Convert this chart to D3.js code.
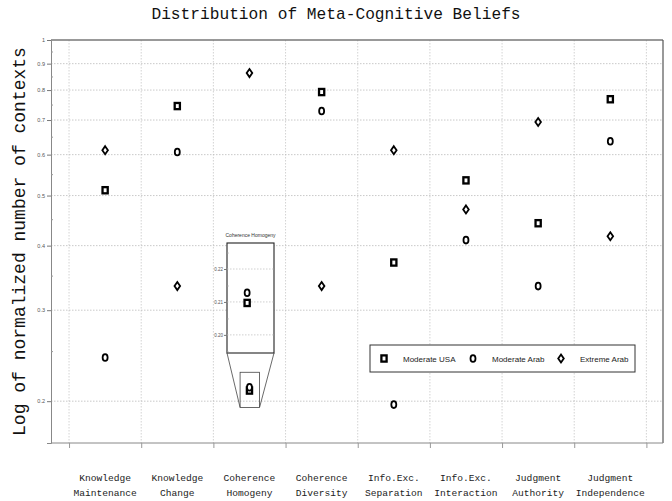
<!DOCTYPE html>
<html><head><meta charset="utf-8">
<script src="https://cdn.jsdelivr.net/npm/d3@7"></script>
<style>
body{margin:0;background:#fff;}
svg{display:block;}
</style></head>
<body>
<svg id="chart" width="672" height="501"></svg>
<script>
const categories = [
  ["Knowledge","Maintenance"],["Knowledge","Change"],["Coherence","Homogeny"],["Coherence","Diversity"],
  ["Info.Exc.","Separation"],["Info.Exc.","Interaction"],["Judgment","Authority"],["Judgment","Independence"]
];
const seriesNames = ["Moderate USA","Moderate Arab","Extreme Arab"];
const moderateUSA  = [0.512, 0.745, 0.2097, 0.793, 0.371, 0.535, 0.442, 0.768];
const moderateArab = [0.243, 0.607, 0.2128, 0.729, 0.197, 0.410, 0.334, 0.637];
const extremeArab  = [0.612, 0.334, 0.863, 0.334, 0.612, 0.470, 0.694, 0.417];
const yTicks = [0.2,0.3,0.4,0.5,0.6,0.7,0.8,0.9,1];
const yMinorTicks = [0.25,0.35,0.45,0.55,0.65,0.75,0.85,0.95];
const insetTicks = [0.20,0.21,0.22];
const insetMinorTicks = [0.195,0.205,0.215,0.225];
const insetTitle = "Coherence Homogeny";
const title = "Distribution of Meta-Cognitive Beliefs";
const yLabel = "Log of normalized number of contexts";

const svg = d3.select("#chart");
const L = 51, R = 663, T = 40, B = 443;
const x = d3.scaleLinear().domain([0.25, 8.73]).range([L, R]);
const y = d3.scaleLog().domain([0.166, 1]).range([B, T]);
const mono = "'Liberation Mono','Courier New',monospace";
const narrow = "'Liberation Sans Narrow','Liberation Sans',Arial,sans-serif";

// grid
const bounds = d3.range(0.5, 9, 1);
svg.append("g").selectAll("line").data(bounds).join("line")
  .attr("x1", d=>x(d)).attr("x2", d=>x(d)).attr("y1", T).attr("y2", B)
  .attr("stroke", "#c8c8c8").attr("stroke-width", 0.8).attr("stroke-dasharray", "1.5,1.5");
svg.append("g").selectAll("line").data(yTicks.slice(0,-1)).join("line")
  .attr("x1", L).attr("x2", R).attr("y1", d=>y(d)).attr("y2", d=>y(d))
  .attr("stroke", "#bbb").attr("stroke-width", 0.8).attr("stroke-dasharray", "1.5,1.5");

// frame
svg.append("line").attr("x1", L).attr("x2", R).attr("y1", T).attr("y2", T).attr("stroke", "#777").attr("stroke-width", 1.5);
svg.append("line").attr("x1", R).attr("x2", R).attr("y1", T).attr("y2", B).attr("stroke", "#555").attr("stroke-width", 1.2);
svg.append("line").attr("x1", L).attr("x2", R).attr("y1", B).attr("y2", B).attr("stroke", "#888").attr("stroke-width", 1);

// y axis
const yAxis = d3.axisLeft(y).tickValues(yTicks).tickFormat(d3.format("~g")).tickSize(4).tickPadding(2);
const gy = svg.append("g").attr("transform", `translate(${L},0)`).call(yAxis);
gy.select(".domain").attr("stroke", "#888");
gy.selectAll(".tick line").attr("stroke", "#777");
gy.selectAll(".tick text").attr("font-family", narrow).attr("font-size", 5.5).attr("fill", "#555");
const yMinor = d3.axisLeft(y).tickValues(yMinorTicks).tickFormat("").tickSize(-2);
const gym = svg.append("g").attr("transform", `translate(${L},0)`).call(yMinor);
gym.select(".domain").remove();
gym.selectAll(".tick line").attr("stroke", "#999");

// x axis
const xAxis = d3.axisBottom(x).tickValues(bounds).tickFormat("").tickSize(5);
const gx = svg.append("g").attr("transform", `translate(0,${B})`).call(xAxis);
gx.select(".domain").remove();
gx.selectAll(".tick line").attr("stroke", "#999");
const xl = svg.append("g");
categories.forEach((c, i) => {
  const t = xl.append("text").attr("x", x(i+1)).attr("y", 481).attr("text-anchor", "middle")
    .attr("font-family", mono).attr("font-size", 9.6).attr("fill", "#222");
  t.append("tspan").attr("x", x(i+1)).attr("dy", 0).text(c[0]);
  t.append("tspan").attr("x", x(i+1)).attr("dy", 15).text(c[1]);
});

// title & y label
svg.append("text").attr("x", 336).attr("y", 19).attr("text-anchor", "middle")
  .attr("font-family", mono).attr("font-size", 16.2).attr("fill", "#111").text(title);
svg.append("text").attr("transform", `translate(25,${(T+B)/2}) rotate(-90)`).attr("text-anchor", "middle")
  .attr("font-family", mono).attr("font-size", 18).attr("fill", "#111").text(yLabel);

// markers
function marker(g, type, cx, cy) {
  if (type === 0) {
    g.append("rect").attr("x", cx-2.6).attr("y", cy-3.1).attr("width", 5.2).attr("height", 6.2)
      .attr("fill", "#fff").attr("stroke", "#000").attr("stroke-width", 2.3);
  } else if (type === 1) {
    g.append("ellipse").attr("cx", cx).attr("cy", cy).attr("rx", 2.5).attr("ry", 3.4)
      .attr("fill", "#fff").attr("stroke", "#000").attr("stroke-width", 1.8);
  } else {
    g.append("path").attr("d", `M${cx},${cy-4}L${cx+2.8},${cy}L${cx},${cy+4}L${cx-2.8},${cy}Z`)
      .attr("fill", "#fff").attr("stroke", "#000").attr("stroke-width", 1.8);
  }
}
const allSeries = [moderateUSA, moderateArab, extremeArab];
const gm = svg.append("g");
allSeries.forEach((s, k) => s.forEach((v, i) => marker(gm, k, x(i+1), y(v))));

// zoom rectangle in main plot
const zx0 = 2.87, zx1 = 3.14, zy0 = 0.1945, zy1 = 0.2275;
svg.append("rect").attr("x", x(zx0)).attr("y", y(zy1)).attr("width", x(zx1)-x(zx0)).attr("height", y(zy0)-y(zy1))
  .attr("fill", "none").attr("stroke", "#444").attr("stroke-width", 0.8);

// inset
const IL = 227, IR = 274, IT = 243, IB = 353;
const ix = d3.scaleLinear().domain([2.85, 3.20]).range([IL, IR]);
const iy = d3.scaleLinear().domain([0.1945, 0.2279]).range([IB, IT]);
const gi = svg.append("g");
gi.append("rect").attr("x", IL).attr("y", IT).attr("width", IR-IL).attr("height", IB-IT)
  .attr("fill", "#fff").attr("stroke", "#222").attr("stroke-width", 1.1);
gi.selectAll("line.ig").data(insetTicks).join("line").attr("class", "ig")
  .attr("x1", IL).attr("x2", IR).attr("y1", d=>iy(d)).attr("y2", d=>iy(d))
  .attr("stroke", "#bbb").attr("stroke-width", 0.7).attr("stroke-dasharray", "1.5,1.5");
const iAxis = d3.axisLeft(iy).tickValues(insetTicks).tickFormat(d3.format(".2f")).tickSize(3).tickPadding(1);
const gia = gi.append("g").attr("transform", `translate(${IL},0)`).call(iAxis);
gia.select(".domain").remove();
gia.selectAll(".tick line").attr("stroke", "#777");
gia.selectAll(".tick text").attr("font-family", narrow).attr("font-size", 4.5).attr("fill", "#555");
const iMinor = d3.axisLeft(iy).tickValues(insetMinorTicks).tickFormat("").tickSize(-1.5);
const gim = gi.append("g").attr("transform", `translate(${IL},0)`).call(iMinor);
gim.select(".domain").remove();
gim.selectAll(".tick line").attr("stroke", "#999");
gi.append("text").attr("x", (IL+IR)/2).attr("y", IT-6).attr("text-anchor", "middle")
  .attr("font-family", narrow).attr("font-size", 5).attr("fill", "#333").text(insetTitle);
[moderateUSA, moderateArab].forEach((s, k) => marker(gi, k, ix(3), iy(s[2])));
// connector lines
gi.append("line").attr("x1", IL).attr("y1", IB).attr("x2", x(zx0)).attr("y2", y(zy0)).attr("stroke", "#444").attr("stroke-width", 0.8);
gi.append("line").attr("x1", IR).attr("y1", IB).attr("x2", x(zx1)).attr("y2", y(zy0)).attr("stroke", "#444").attr("stroke-width", 0.8);

// legend
const lg = svg.append("g");
lg.append("rect").attr("x", 370).attr("y", 345).attr("width", 265).attr("height", 27)
  .attr("fill", "#fff").attr("stroke", "#333").attr("stroke-width", 1);
const legX = [384, 473, 561];
seriesNames.forEach((n, k) => {
  marker(lg, k, legX[k], 358.5);
  lg.append("text").attr("x", legX[k]+19).attr("y", 361.5).attr("font-family", narrow)
    .attr("font-size", 8).attr("fill", "#222").text(n);
});
</script>
</body></html>
